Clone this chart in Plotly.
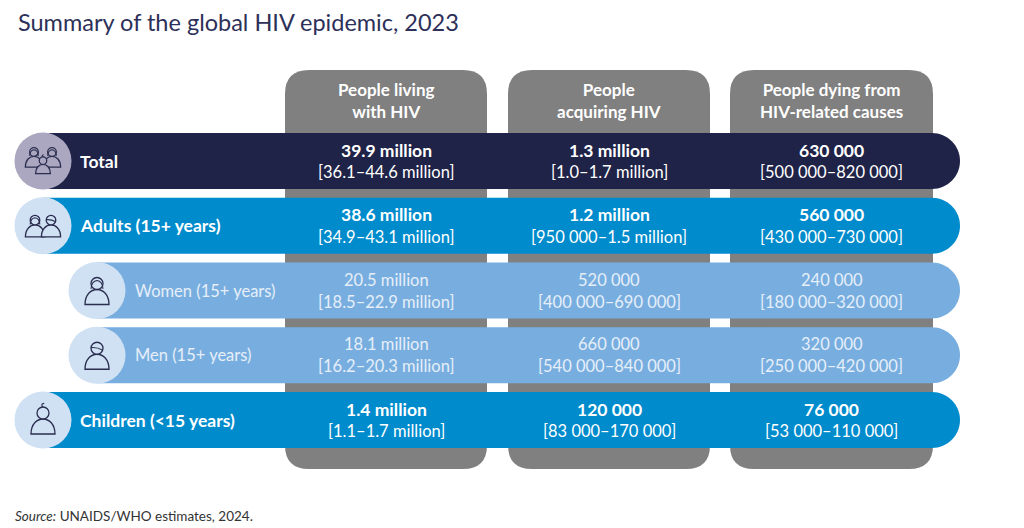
import plotly.graph_objects as go

# table content
row_labels = ["Total", "Adults (15+ years)", "Women (15+ years)", "Men (15+ years)", "Children (<15 years)"]
row_level = ["main", "main", "sub", "sub", "main"]
col_headers = ["People living<br>with HIV", "People<br>acquiring HIV", "People dying from<br>HIV-related causes"]

living = ["39.9 million", "38.6 million", "20.5 million", "18.1 million", "1.4 million"]
living_range = ["[36.1–44.6 million]", "[34.9–43.1 million]", "[18.5–22.9 million]",
                "[16.2–20.3 million]", "[1.1–1.7 million]"]
acquiring = ["1.3 million", "1.2 million", "520 000", "660 000", "120 000"]
acquiring_range = ["[1.0–1.7 million]", "[950 000–1.5 million]", "[400 000–690 000]",
                   "[540 000–840 000]", "[83 000–170 000]"]
dying = ["630 000", "560 000", "240 000", "320 000", "76 000"]
dying_range = ["[500 000–820 000]", "[430 000–730 000]", "[180 000–320 000]",
               "[250 000–420 000]", "[53 000–110 000]"]

# icon people per row: (dx, dy, scale, hair)
icons = [
    [(-9, -4, 0.72, "f"), (9, -4, 0.72, "f"), (0, 4, 0.62, "c")],
    [(-8, 0, 0.8, "f"), (8, 0, 0.8, "m")],
    [(0, 0, 1.0, "f")],
    [(0, 0, 1.0, "m")],
    [(0, 0, 1.0, "c")],
]

FONT = "Lato, Open Sans, sans-serif"
W, H = 1024, 528
OFF = 8  # page body margin
main_blue = "#008bcc"
sub_blue = "#78aedf"
gray = "#808080"
ink = "#2b2d4f"

col_x = [(285, 487), (508, 710), (730, 933)]
col_top, col_bot, col_r = 70, 469, 24
row_c0, row_step, row_h = 161, 64.75, 56
bar_right = 960
K = 0.5523


def rounded_rect(x0, y0, x1, y1, r):
    return (f"M {x0+r},{y0} L {x1-r},{y0} Q {x1},{y0} {x1},{y0+r} "
            f"L {x1},{y1-r} Q {x1},{y1} {x1-r},{y1} L {x0+r},{y1} "
            f"Q {x0},{y1} {x0},{y1-r} L {x0},{y0+r} Q {x0},{y0} {x0+r},{y0} Z")


def pill_right(x0, y0, x1, y1):
    r = (y1 - y0) / 2
    cy = (y0 + y1) / 2
    xc = x1 - r
    return (f"M {x0},{y0} L {xc},{y0} C {xc+K*r},{y0} {x1},{cy-K*r} {x1},{cy} "
            f"C {x1},{cy+K*r} {xc+K*r},{y1} {xc},{y1} L {x0},{y1} Z")


fig = go.Figure()
shapes = []
annotations = []

# gray column backgrounds
for (x0, x1) in col_x:
    shapes.append(dict(type="path", path=rounded_rect(x0, col_top, x1, col_bot, col_r),
                       fillcolor=gray, line_width=0, layer="above"))

for (x0, x1), head in zip(col_x, col_headers):
    annotations.append(dict(x=(x0 + x1) / 2, y=100.5, text=f"<b>{head}</b>", showarrow=False,
                            font=dict(family=FONT, size=17, color="white"),
                            xanchor="center", yanchor="middle"))

values = list(zip(living, living_range, acquiring, acquiring_range, dying, dying_range))

for i, label in enumerate(row_labels):
    cy = row_c0 + i * row_step
    y0, y1 = cy - row_h / 2, cy + row_h / 2
    main = row_level[i] == "main"
    cx = 43 if main else 97
    if label == "Total":
        fill, circ = "#1f2347", "#aba7c0"
    elif main:
        fill, circ = main_blue, "#cfe1f3"
    else:
        fill, circ = sub_blue, "#cfe1f3"
    shapes.append(dict(type="path", path=pill_right(cx, y0, bar_right, y1),
                       fillcolor=fill, line_width=0, layer="above"))
    shapes.append(dict(type="circle", x0=cx - row_h / 2 - 0.5, x1=cx + row_h / 2 + 0.5,
                       y0=y0 - 0.5, y1=y1 + 0.5, fillcolor=circ, line_width=0, layer="above"))
    # person icons
    for dx, dy, s, hair in icons[i]:
        px, py = cx + dx, cy + dy
        hr = 6 * s
        hy = py - 7 * s
        bw, bb = 12 * s, py + 14 * s
        ctl = bb - 20 * s
        shapes.append(dict(type="path",
                           path=(f"M {px-bw},{bb} C {px-bw},{ctl} {px+bw},{ctl} {px+bw},{bb} Z"),
                           line=dict(color=ink, width=1.3), fillcolor=circ, layer="above"))
        shapes.append(dict(type="circle", x0=px - hr, x1=px + hr, y0=hy - hr, y1=hy + hr,
                           line=dict(color=ink, width=1.3), fillcolor=circ, layer="above"))
        if hair == "f":
            shapes.append(dict(type="path",
                               path=(f"M {px-hr},{hy+hr*0.9} Q {px-hr*0.9},{hy-hr*0.4} {px},{hy-hr*0.5} "
                                     f"Q {px+hr*0.9},{hy-hr*0.4} {px+hr},{hy+hr*0.9}"),
                               line=dict(color=ink, width=1.1), layer="above"))
        elif hair == "m":
            shapes.append(dict(type="path",
                               path=f"M {px-hr},{hy-hr*0.1} Q {px},{hy-hr*0.2} {px+hr*0.9},{hy+hr*0.3}",
                               line=dict(color=ink, width=1.1), layer="above"))
        else:
            shapes.append(dict(type="path",
                               path=f"M {px},{hy-hr} Q {px-hr*0.5},{hy-hr*1.5} {px+hr*0.2},{hy-hr*1.6}",
                               line=dict(color=ink, width=1.1), layer="above"))

    txt_col = "white" if main else "#e6eff9"
    lab = f"<b>{label}</b>" if main else label
    annotations.append(dict(x=78 if main else 133, y=cy, text=lab, showarrow=False,
                            font=dict(family=FONT, size=17.5 if main else 16.5, color=txt_col),
                            xanchor="left", yanchor="middle"))
    v = values[i]
    for j, (x0, x1) in enumerate(col_x):
        val = v[2 * j]
        rng = v[2 * j + 1]
        annotations.append(dict(x=(x0 + x1) / 2, y=cy - 11, text=f"<b>{val}</b>" if main else val,
                                showarrow=False,
                                font=dict(family=FONT, size=17.5 if main else 16.5, color=txt_col),
                                xanchor="center", yanchor="middle"))
        annotations.append(dict(x=(x0 + x1) / 2, y=cy + 11, text=rng,
                                showarrow=False, font=dict(family=FONT, size=16.5, color=txt_col),
                                xanchor="center", yanchor="middle"))

annotations.append(dict(x=16, y=22, text="Summary of the global HIV epidemic, 2023", showarrow=False,
                        font=dict(family=FONT, size=23.5, color="#2d3058"),
                        xanchor="left", yanchor="middle"))
annotations.append(dict(x=13, y=516, text="<i>Source:</i> UNAIDS/WHO estimates, 2024.", showarrow=False,
                        font=dict(family=FONT, size=13.5, color="#333333"),
                        xanchor="left", yanchor="middle"))

fig.update_layout(
    width=W, height=H,
    margin=dict(l=0, r=0, t=0, b=0),
    paper_bgcolor="white", plot_bgcolor="white",
    shapes=shapes, annotations=annotations,
    showlegend=False,
)
fig.update_xaxes(range=[OFF, W + OFF], visible=False, fixedrange=True)
fig.update_yaxes(range=[H + OFF, OFF], visible=False, fixedrange=True)

fig.write_html("out.html")
